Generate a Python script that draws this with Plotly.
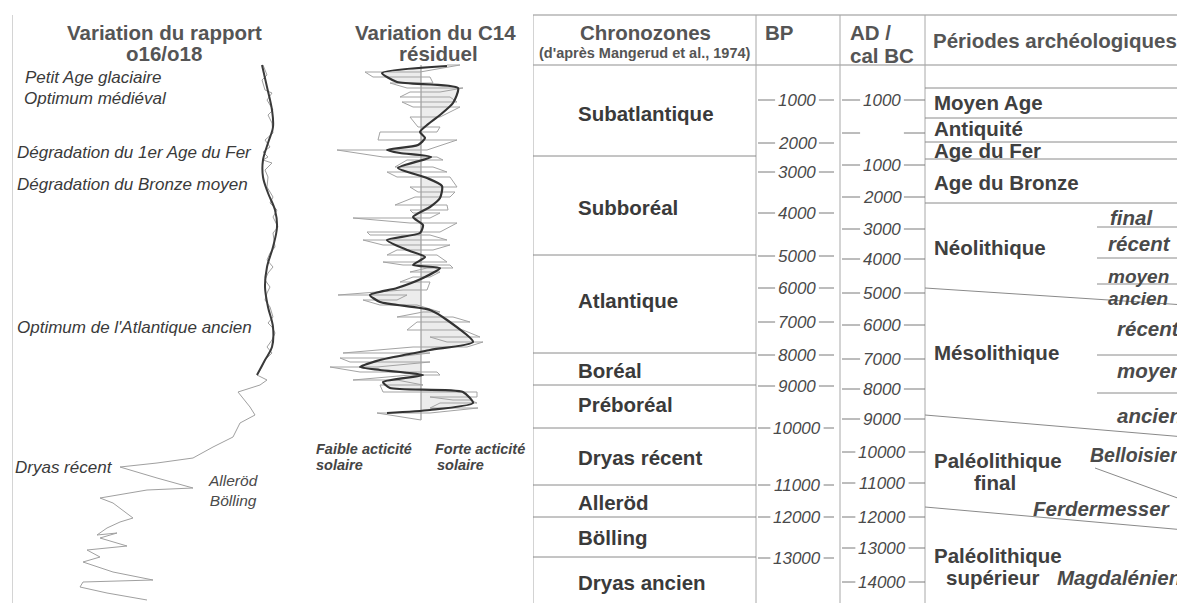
import plotly.graph_objects as go

W, H = 1185, 603
OFF = 8  # the page body has an 8 px margin; the axes are shifted to compensate
FONT = "Liberation Sans, Arial, sans-serif"
LINE = "#8f8f8f"

# column frame (diagram units = screen rows / columns of the scan)
COL_X = [13, 315, 533, 756, 840, 925]
TOP_ROW, HEAD_ROW = 15, 65

# --- column 1 : variation du rapport o16/o18 ---
O18_LABELS = ["Petit Age glaciaire", "Optimum médiéval", "Dégradation du 1er Age du Fer",
              "Dégradation du Bronze moyen", "Optimum de l'Atlantique ancien", "Dryas récent"]
O18_LABEL_ROWS = [77, 98, 152, 184, 327, 467]
O18_LABEL_X = [23, 22, 15, 15, 15, 13]

O18_SMOOTH_ROWS = [65, 87, 110, 127, 143, 160, 177, 193, 210, 227, 247, 267, 287, 307, 327, 347, 360, 375]
O18_SMOOTH = [-1, 4, 9, 10, 5, 0, 0, 5, 12, 14, 10, 4, 2, 5, 10, 9, 2, -6]

O18_RAW_ROWS = [65, 75, 80, 90, 93, 100, 110, 115, 123, 133, 140, 147, 152, 157, 160, 163, 170, 177,
                187, 197, 203, 210, 217, 227, 233, 247, 253, 260, 267, 273, 280, 287, 293, 300, 307,
                317, 323, 327, 333, 340, 347, 353, 360, 367, 375, 380, 385, 388, 392, 407, 415, 423,
                437, 447, 458, 463, 467, 478, 488, 490, 498, 503, 513, 518, 522, 528, 535, 533, 538,
                546, 550, 557, 562, 572, 580, 582, 587, 593, 600]
O18_RAW = [0, 4, -1, 2, 9, 4, 10, 5, 9, 10, 2, 7, 0, 5, 0, 9, 2, 5, 4, 10, 7, 14, 10, 15, 10, 12, 7, 4,
           10, 5, 2, 7, 4, 2, 7, 10, 5, 9, 12, 9, 4, 9, 2, -1, -6, 4, -3, -13, -25, -13, -8, -23, -30,
           -50, -70, -106, -143, -106, -70, -116, -163, -150, -136, -130, -143, -156, -166, -146, -163,
           -136, -176, -163, -180, -150, -110, -180, -183, -156, -116]
O18_MEAN_X = 263

# --- column 2 : variation du C14 residuel ---
C14_SMOOTH_ROWS = [66, 73, 82, 88, 103, 115, 125, 132, 138, 145, 150, 153, 157, 168, 178, 186, 198, 207,
                   217, 225, 233, 240, 250, 257, 265, 268, 278, 288, 295, 302, 310, 320, 342, 350, 360,
                   367, 370, 375, 382, 388, 392, 403, 410, 413]
C14_SMOOTH = [26, -39, -24, 37, 32, 19, 6, -1, 4, -3, -34, -21, 10, -23, 6, 21, 19, 9, -8, 2, -1, -34,
              -14, 4, -8, 19, 2, -24, -51, -41, 9, 26, 52, 9, -41, -61, -41, 2, -38, -31, 42, 52, 9, -34]

C14_SPIKE_ROWS = [65, 72, 77, 83, 88, 92, 97, 102, 107, 117, 127, 132, 140, 150, 157, 160, 167, 172,
                  177, 187, 192, 197, 205, 210, 213, 218, 223, 232, 235, 240, 245, 250, 255, 262, 265,
                  268, 272, 277, 282, 290, 295, 300, 305, 312, 317, 322, 330, 337, 342, 347, 353, 358,
                  362, 367, 372, 375, 380, 385, 392, 397, 400, 403, 408, 413]
C14_SPIKE_LOW = [26, -56, -48, -31, -14, -11, -21, -19, -8, -11, -3, -41, -43, -84, -38, -14, -26, -34,
                 -24, -11, -3, -6, -26, -11, -8, -68, -11, -54, -51, -58, -38, -24, -34, -38, -18, 6,
                 -11, -8, -21, -18, -83, -58, -41, 2, -24, -4, -14, 9, 26, -8, -78, -81, -71, -91, -61,
                 -11, -68, -41, -38, 9, 32, 19, 9, -44]
C14_SPIKE_HIGH = [39, -1, 9, 12, 42, 19, 29, 36, 39, 19, 19, 16, 36, 6, 16, 22, 12, 26, 29, 36, 34, 29,
                  26, 27, 19, 9, 36, 19, 9, 26, 29, 12, 16, 26, 29, 32, 19, 9, 9, 6, -14, -24, -4, 19,
                  32, 49, 42, 59, 62, 46, 9, -34, 9, -44, 16, 19, -24, 2, 56, 56, 49, 56, 57, 9]
C14_CENTER_X = 421

# --- column 3 : chronozones ---
CHRONOZONES = ["Subatlantique", "Subboréal", "Atlantique", "Boréal", "Préboréal",
               "Dryas récent", "Alleröd", "Bölling", "Dryas ancien"]
CHRONO_ROWS = [113, 207, 300, 370, 404, 457, 502, 537, 582]
CHRONO_LIMITS = [156, 255, 353, 385, 428, 485, 517, 557]

# --- columns 4 and 5 : BP and AD / cal BC ---
BP_LABELS = ["1000", "2000", "3000", "4000", "5000", "6000", "7000", "8000", "9000",
             "10000", "11000", "12000", "13000"]
BP_ROWS = [100, 143, 172, 213, 256, 288, 322, 355, 386, 428, 485, 517, 558]
AD_LABELS = ["1000", "", "1000", "2000", "3000", "4000", "5000", "6000", "7000", "8000",
             "9000", "10000", "11000", "12000", "13000", "14000"]
AD_ROWS = [100, 133, 165, 197, 229, 259, 293, 325, 359, 389, 419, 452, 483, 517, 548, 582]

# --- column 6 : periodes archeologiques ---
PERIODS = ["Moyen Age", "Antiquité", "Age du Fer", "Age du Bronze", "Néolithique", "Mésolithique",
           "Paléolithique", "Paléolithique"]
PERIOD_ROWS = [102, 128, 150, 182, 247, 352, 460, 555]
PERIOD_SECOND = [("final", 482), ("supérieur", 577)]
SUB_PERIODS = ["final", "récent", "moyen", "ancien", "récent", "moyen", "ancien",
               "Belloisien", "Ferdermesser", "Magdalénien"]
SUB_ROWS = [217, 243, 276, 298, 328, 370, 415, 455, 508, 577]
SUB_X = [1108, 1106, 1106, 1106, 1115, 1115, 1115, 1088, 1031, 1055]
SUB_SIZE = [20.5, 20.5, 19, 19, 20.5, 20.5, 20.5, 19.5, 20.5, 20.5]
PERIOD_LIMITS = [88, 118, 142, 159, 203]
SUB_LIMITS = [227, 258, 284, 355, 393]
SLANTED = [(925, 288, 1185, 305), (925, 415, 1185, 437), (1095, 468, 1183, 500), (925, 507, 1185, 530)]

fig = go.Figure()


def seg(x0, y0, x1, y1, color=LINE, width=1):
    fig.add_shape(type="line", xref="x", yref="y", x0=x0, y0=y0, x1=x1, y1=y1,
                  line=dict(color=color, width=width), layer="below")


def text(x, y, s, size, color="#3c3c3c", anchor="left", bold=False, italic=False):
    if bold:
        s = "<b>" + s + "</b>"
    if italic:
        s = "<i>" + s + "</i>"
    fig.add_annotation(x=x, y=y, xref="x", yref="y", text=s, showarrow=False,
                       xanchor=anchor, yanchor="middle",
                       font=dict(family=FONT, size=size, color=color))


# frame
seg(COL_X[0], TOP_ROW, W, TOP_ROW)
seg(COL_X[0], HEAD_ROW, W, HEAD_ROW)
for cx in COL_X:
    seg(cx, TOP_ROW, cx, H, color="#a8a8a8")

# headers
HEAD = "#555555"
text(164, 32, "Variation du rapport", 20.5, HEAD, "center", bold=True)
text(164, 53, "o16/o18", 20.5, HEAD, "center", bold=True)
text(435, 32, "Variation du C14", 20.5, HEAD, "center", bold=True)
text(438, 53, "résiduel", 20.5, HEAD, "center", bold=True)
text(645, 32, "Chronozones", 20.5, HEAD, "center", bold=True)
text(645, 53, "(d'après Mangerud et al., 1974)", 14.5, HEAD, "center", bold=True)
text(763, 32, "BP", 20.5, HEAD, bold=True)
text(848, 32, "AD /", 20.5, HEAD, bold=True)
text(848, 55, "cal BC", 20.5, HEAD, bold=True)
text(931, 40, "Périodes archéologiques", 20.5, HEAD, bold=True)

# column 1 curve
fig.add_trace(go.Scatter(x=O18_RAW, y=O18_RAW_ROWS, xaxis="x3", yaxis="y", mode="lines",
                         line=dict(color="#a0a0a0", width=1), hoverinfo="skip"))
fig.add_trace(go.Scatter(x=O18_SMOOTH, y=O18_SMOOTH_ROWS, xaxis="x3", yaxis="y", mode="lines",
                         line=dict(color="#3a3a3a", width=2, shape="spline", smoothing=1),
                         hoverinfo="skip"))
for s, r, x in zip(O18_LABELS, O18_LABEL_ROWS, O18_LABEL_X):
    text(x, r, s, 17, "#3a3a3a", italic=True)
fig.add_annotation(x=233, y=490, xref="x", yref="y", text="<i>Alleröd<br>Bölling</i>",
                   showarrow=False, xanchor="center", yanchor="middle", align="center",
                   font=dict(family=FONT, size=15.5, color="#4a4a4a"))

# column 2 curve
zig_x, zig_y = [], []
for i, (r, lo, hi) in enumerate(zip(C14_SPIKE_ROWS, C14_SPIKE_LOW, C14_SPIKE_HIGH)):
    pair = (lo, hi) if i % 2 == 0 else (hi, lo)
    zig_x += list(pair)
    zig_y += [r, r]
zig_x.append(0)
zig_y.append(420)

fig.add_trace(go.Scatter(x=[0] * len(C14_SMOOTH_ROWS), y=C14_SMOOTH_ROWS, xaxis="x2", yaxis="y",
                         mode="lines", line=dict(width=0), hoverinfo="skip"))
fig.add_trace(go.Scatter(x=C14_SMOOTH, y=C14_SMOOTH_ROWS, xaxis="x2", yaxis="y", mode="lines",
                         fill="tonextx", fillcolor="rgba(200,200,200,0.35)",
                         line=dict(width=0), hoverinfo="skip"))
fig.add_trace(go.Scatter(x=[0, 0], y=[HEAD_ROW, 420], xaxis="x2", yaxis="y", mode="lines",
                         line=dict(color="#8a8a8a", width=1), hoverinfo="skip"))
fig.add_trace(go.Scatter(x=zig_x, y=zig_y, xaxis="x2", yaxis="y", mode="lines",
                         line=dict(color="#a3a3a3", width=1), hoverinfo="skip"))
fig.add_trace(go.Scatter(x=C14_SMOOTH, y=C14_SMOOTH_ROWS, xaxis="x2", yaxis="y", mode="lines",
                         line=dict(color="#333333", width=2.2, shape="spline", smoothing=0.6),
                         hoverinfo="skip"))
text(314, 449, "Faible acticité", 14.5, "#444444", bold=True, italic=True)
text(314, 465, "solaire", 14.5, "#444444", bold=True, italic=True)
text(433, 449, "Forte acticité", 14.5, "#444444", bold=True, italic=True)
text(435, 465, "solaire", 14.5, "#444444", bold=True, italic=True)

# column 3 chronozones
for r in CHRONO_LIMITS:
    seg(COL_X[2], r, COL_X[3], r, color="#8a8a8a")
for s, r in zip(CHRONOZONES, CHRONO_ROWS):
    text(576, r, s, 20.5, "#3a3a3a", bold=True)

# columns 4-5 scales
TICK = "#7a7a7a"


def half_width(s):
    return (len(s) if s else 4) * 0.556 * 17 / 2 + 3


for s, r in zip(BP_LABELS, BP_ROWS):
    hw = half_width(s)
    seg(COL_X[3] + 2, r, 797 - hw, r, TICK)
    seg(797 + hw, r, COL_X[4] - 6, r, TICK)
    text(797, r, s, 17, "#4a4a4a", "center", italic=True)
for s, r in zip(AD_LABELS, AD_ROWS):
    hw = half_width(s)
    seg(COL_X[4] + 2, r, 882 - hw, r, TICK)
    seg(882 + hw, r, COL_X[5], r, TICK)
    if s:
        text(882, r, s, 17, "#4a4a4a", "center", italic=True)

# column 6 periods
for r in PERIOD_LIMITS:
    seg(COL_X[5], r, W, r, color="#8a8a8a")
for r in SUB_LIMITS:
    seg(1097, r, W, r, color="#8a8a8a")
for x0, y0, x1, y1 in SLANTED:
    seg(x0, y0, x1, y1, color="#8a8a8a")
for s, r in zip(PERIODS, PERIOD_ROWS):
    text(932, r, s, 20.5, "#404040", bold=True)
text(995, PERIOD_SECOND[0][1], PERIOD_SECOND[0][0], 20.5, "#404040", "center", bold=True)
text(992, PERIOD_SECOND[1][1], PERIOD_SECOND[1][0], 20.5, "#404040", "center", bold=True)
for s, r, x, fs in zip(SUB_PERIODS, SUB_ROWS, SUB_X, SUB_SIZE):
    text(x, r, s, fs, "#4a4a4a", bold=True, italic=True)

PW, PH = W - OFF, H - OFF
fig.update_layout(
    width=PW, height=PH,
    margin=dict(l=0, r=0, t=0, b=0),
    paper_bgcolor="white", plot_bgcolor="white",
    showlegend=False,
    xaxis=dict(range=[OFF, W], visible=False, domain=[0, 1]),
    yaxis=dict(range=[H, OFF], visible=False, domain=[0, 1]),
    xaxis2=dict(range=[COL_X[1] - C14_CENTER_X, COL_X[2] - C14_CENTER_X], anchor="y",
                domain=[(COL_X[1] - OFF) / PW, (COL_X[2] - OFF) / PW], visible=False),
    xaxis3=dict(range=[COL_X[0] - O18_MEAN_X, COL_X[1] - O18_MEAN_X], anchor="y",
                domain=[(COL_X[0] - OFF) / PW, (COL_X[1] - OFF) / PW], visible=False),
)

fig.write_html("out.html")
